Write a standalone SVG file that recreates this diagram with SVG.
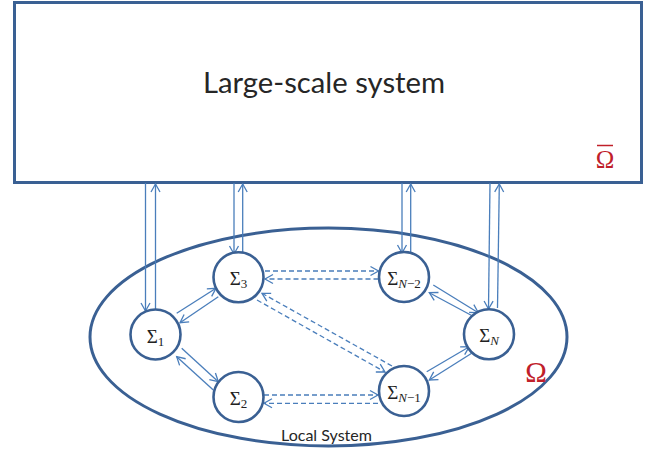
<svg xmlns="http://www.w3.org/2000/svg" width="659" height="450" viewBox="0 0 659 450">
<style>
.box{fill:#fff;stroke:#3A6093;stroke-width:3}
.node circle{fill:#fff;stroke:#3A6093;stroke-width:2.6}
.lab{font-family:"Liberation Serif","DejaVu Serif",serif;font-size:19px;fill:#222;text-anchor:middle}
.sub{font-size:13px}
.c{stroke:#4A7EBB;stroke-width:1.3;fill:none;marker-end:url(#ah)}
.d{stroke-dasharray:5 3}
.red{font-family:"Liberation Serif","DejaVu Serif",serif;fill:#C0202A;text-anchor:middle}
</style>
<defs>
<marker id="ah" markerUnits="userSpaceOnUse" markerWidth="12" markerHeight="12" viewBox="-10 -6 12 12" refX="0" refY="0" orient="auto">
<path d="M-8,-4.5 L0,0 L-8,4.5" fill="none" stroke="#4A7EBB" stroke-width="1.3"/>
</marker>
</defs>
<g id="large-scale">
<rect class="box" x="14.5" y="2.5" width="627" height="180"/>
<text x="324" y="92.7" font-family="Lato,'Open Sans',sans-serif" font-size="28" fill="#262626" text-anchor="middle" textLength="242" lengthAdjust="spacingAndGlyphs">Large-scale system</text>
<text class="red" x="605" y="168.3" font-size="25">Ω</text>
<line x1="597" y1="145.5" x2="613" y2="145.5" stroke="#C0202A" stroke-width="1.5"/>
</g>
<g id="local-system">
<ellipse cx="328.5" cy="337" rx="238.5" ry="109" fill="none" stroke="#3A6093" stroke-width="3"/>
<text x="326.5" y="441" font-family="Lato,'Open Sans',sans-serif" font-size="15" fill="#262626" text-anchor="middle" textLength="91" lengthAdjust="spacingAndGlyphs">Local System</text>
<text class="red" x="536" y="382" font-size="29">Ω</text>
</g>
<g id="connectors">
<line class="c" x1="145.5" y1="183" x2="145.5" y2="311"/>
<line class="c" x1="155.5" y1="309" x2="155.5" y2="184"/>
<line class="c" x1="234" y1="183" x2="234" y2="254"/>
<line class="c" x1="242.7" y1="252" x2="242.7" y2="184"/>
<line class="c" x1="402" y1="183" x2="402" y2="253"/>
<line class="c" x1="410.7" y1="252" x2="410.7" y2="184"/>
<line class="c" x1="490" y1="183" x2="488.5" y2="309"/>
<line class="c" x1="497.5" y1="308" x2="499.3" y2="184"/>
<line class="c" x1="176.7" y1="313.3" x2="216" y2="288.3"/>
<line class="c" x1="218.3" y1="296.7" x2="180" y2="322.7"/>
<line class="c" x1="181.7" y1="348.3" x2="218.3" y2="381.7"/>
<line class="c" x1="213.3" y1="390" x2="176.7" y2="356.7"/>
<line class="c" x1="433.3" y1="285" x2="478.3" y2="312.7"/>
<line class="c" x1="474" y1="316.7" x2="429.3" y2="292.7"/>
<line class="c" x1="426.7" y1="371.7" x2="469.3" y2="346.7"/>
<line class="c" x1="471.7" y1="353.3" x2="429.3" y2="380"/>
<line class="c d" x1="265" y1="271" x2="378.5" y2="271"/>
<line class="c d" x1="378.5" y1="279" x2="265" y2="279"/>
<line class="c d" x1="264" y1="395" x2="378" y2="395"/>
<line class="c d" x1="378" y1="403.3" x2="264" y2="403.3"/>
<line class="c d" x1="392" y1="366" x2="262" y2="293.3"/>
<line class="c d" x1="257" y1="300" x2="385" y2="372"/>
</g>
<g id="sigma1" class="node"><circle cx="155.5" cy="334.5" r="25"/><text class="lab" x="155.5" y="342.5">Σ<tspan class="sub" dy="3">1</tspan></text></g>
<g id="sigma2" class="node"><circle cx="238.5" cy="397" r="25"/><text class="lab" x="238.5" y="405">Σ<tspan class="sub" dy="3">2</tspan></text></g>
<g id="sigma3" class="node"><circle cx="238.5" cy="277.3" r="25"/><text class="lab" x="238.5" y="285.3">Σ<tspan class="sub" dy="3">3</tspan></text></g>
<g id="sigmaN-2" class="node"><circle cx="404" cy="277" r="25"/><text class="lab" x="404" y="285">Σ<tspan class="sub" dy="3"><tspan font-style="italic">N</tspan>−2</tspan></text></g>
<g id="sigmaN-1" class="node"><circle cx="404" cy="391" r="25"/><text class="lab" x="404" y="399">Σ<tspan class="sub" dy="3"><tspan font-style="italic">N</tspan>−1</tspan></text></g>
<g id="sigmaN" class="node"><circle cx="489" cy="334.3" r="25"/><text class="lab" x="489" y="342.3">Σ<tspan class="sub" dy="3" font-style="italic">N</tspan></text></g>
</svg>
